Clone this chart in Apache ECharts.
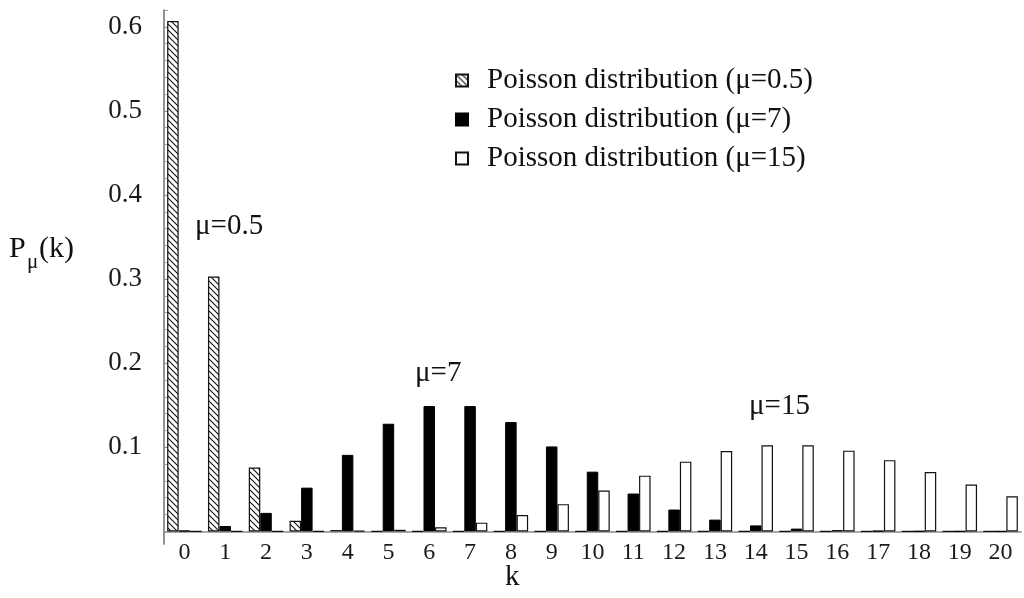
<!DOCTYPE html>
<html>
<head>
<meta charset="utf-8">
<script src="https://cdn.jsdelivr.net/npm/echarts@6/dist/echarts.min.js"></script>
<style>
  html, body { margin: 0; padding: 0; background: #fff; }
  #chart { width: 1024px; height: 598px; }
</style>
</head>
<body>
<div id="chart"></div>
<script>
// k = 0..20
var kLabels = ['0','1','2','3','4','5','6','7','8','9','10','11','12','13','14','15','16','17','18','19','20'];

// P(k)
var mu05 = [0.607, 0.303, 0.076, 0.0126, 0.0016, 0.0002, 0, 0, 0, 0, 0, 0, 0, 0, 0, 0, 0, 0, 0, 0, 0];
var mu7 = [0.0009, 0.0064, 0.022, 0.052, 0.091, 0.128, 0.149, 0.149, 0.130, 0.101, 0.071, 0.045, 0.026, 0.014, 0.0071, 0.0033, 0.0014, 0.0006, 0.0002, 0.0001, 0];
var mu15 = [0, 0, 0, 0.0002, 0.0006, 0.0019, 0.0048, 0.0104, 0.0194, 0.0324, 0.0486, 0.0663, 0.0829, 0.0956, 0.1024, 0.1024, 0.096, 0.0847, 0.0706, 0.0557, 0.0418];

var seriesNames = ['Poisson distribution (\u03bc=0.5)', 'Poisson distribution (\u03bc=7)', 'Poisson distribution (\u03bc=15)'];

// y axis ticks
var yMajorTicks = [0.1, 0.2, 0.3, 0.4, 0.5, 0.6];
var yMinorTicks = [0.02, 0.04, 0.06, 0.08, 0.12, 0.14, 0.16, 0.18, 0.22, 0.24, 0.26, 0.28,
                   0.32, 0.34, 0.36, 0.38, 0.42, 0.44, 0.46, 0.48, 0.52, 0.54, 0.56, 0.58, 0.62];

var serif = '"Liberation Serif", "Times New Roman", serif';

// diagonal hatch for the mu=0.5 bars
function makeHatch() {
  var c = document.createElement('canvas');
  c.width = 6; c.height = 6;
  var g = c.getContext('2d');
  g.fillStyle = '#fff';
  g.fillRect(0, 0, 6, 6);
  g.strokeStyle = '#111';
  g.lineWidth = 1.1;
  g.beginPath();
  g.moveTo(-1, -1); g.lineTo(7, 7);
  g.moveTo(5, -1); g.lineTo(7, 1);
  g.moveTo(-1, 5); g.lineTo(1, 7);
  g.stroke();
  return c;
}

var chart = echarts.init(document.getElementById('chart'));

var yBase = {
  type: 'value',
  min: -0.015,
  max: 0.62,
  position: 'left',
  splitLine: { show: false },
  axisLine: { show: true, onZero: false, lineStyle: { color: '#8c8c8c', width: 1.5 } }
};

chart.setOption({
  backgroundColor: '#fff',
  animation: false,
  grid: { left: 164, right: 3, top: 10, bottom: 54 },
  legend: {
    orient: 'vertical',
    left: 450,
    top: 61,
    icon: 'rect',
    itemWidth: 12,
    itemHeight: 12,
    itemGap: 10,
    textStyle: { fontFamily: serif, fontSize: 29, color: '#111', padding: [0, 0, 0, 14] },
    data: seriesNames
  },
  xAxis: {
    type: 'category',
    data: kLabels,
    axisLine: { onZero: true, lineStyle: { color: '#8c8c8c', width: 1.5 } },
    axisTick: { show: false },
    axisLabel: { fontFamily: serif, fontSize: 24, color: '#1a1a1a', margin: -3 }
  },
  yAxis: [
    Object.assign({}, yBase, {
      axisTick: { show: true, inside: true, length: 7, customValues: yMajorTicks, lineStyle: { color: '#8c8c8c', width: 1.2 } },
      axisLabel: { customValues: yMajorTicks, fontFamily: serif, fontSize: 27, color: '#1a1a1a', margin: 22 }
    }),
    Object.assign({}, yBase, {
      axisTick: { show: true, inside: true, length: 4, customValues: yMinorTicks, lineStyle: { color: '#a0a0a0', width: 1 } },
      axisLabel: { show: false }
    })
  ],
  series: [
    {
      name: seriesNames[0],
      type: 'bar',
      data: mu05,
      barWidth: 11.5,
      barGap: '0%',
      itemStyle: { color: { image: makeHatch(), repeat: 'repeat' }, borderColor: '#111', borderWidth: 1.2 }
    },
    {
      name: seriesNames[1],
      type: 'bar',
      data: mu7,
      barWidth: 11.5,
      barGap: '0%',
      itemStyle: { color: '#000', borderColor: '#000', borderWidth: 1 }
    },
    {
      name: seriesNames[2],
      type: 'bar',
      data: mu15,
      barWidth: 11.5,
      barGap: '0%',
      itemStyle: { color: '#fff', borderColor: '#111', borderWidth: 1.2 }
    }
  ],
  graphic: [
    { type: 'text', left: 9, top: 234, style: { text: 'P', font: '30px ' + serif, fill: '#111' } },
    { type: 'text', left: 27, top: 252, style: { text: '\u03bc', font: '21px ' + serif, fill: '#111' } },
    { type: 'text', left: 39, top: 234, style: { text: '(k)', font: '30px ' + serif, fill: '#111' } },
    { type: 'text', left: 195, top: 212, style: { text: '\u03bc=0.5', font: '29px ' + serif, fill: '#111' } },
    { type: 'text', left: 415, top: 359, style: { text: '\u03bc=7', font: '29px ' + serif, fill: '#111' } },
    { type: 'text', left: 749, top: 392, style: { text: '\u03bc=15', font: '29px ' + serif, fill: '#111' } },
    { type: 'text', left: 505, top: 563, style: { text: 'k', font: '29px ' + serif, fill: '#111' } }
  ]
});
</script>
</body>
</html>
